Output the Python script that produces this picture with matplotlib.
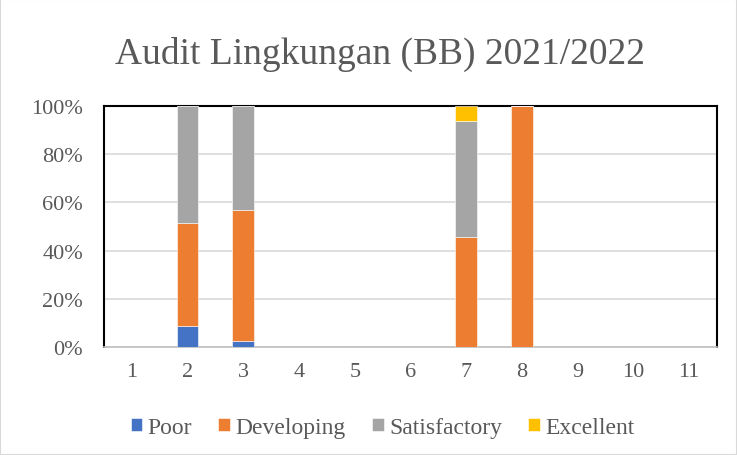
import matplotlib
matplotlib.use('Agg')
import numpy as np
import matplotlib.pyplot as plt
from matplotlib.patches import Rectangle

# ── Data ─────────────────────────────────────────────────────────────────────
CATEGORIES = [str(i) for i in range(1, 12)]
POOR = [0, 8.5, 2.6, 0, 0, 0, 0, 0, 0, 0, 0]
DEVELOPING = [0, 43.0, 54.4, 0, 0, 0, 45.5, 100, 0, 0, 0]
SATISFACTORY = [0, 48.5, 43.0, 0, 0, 0, 48.3, 0, 0, 0, 0]
EXCELLENT = [0, 0, 0, 0, 0, 0, 6.2, 0, 0, 0, 0]
SERIES = ["Poor", "Developing", "Satisfactory", "Excellent"]
COLORS = ["#4472C4", "#ED7D31", "#A5A5A5", "#FFC000"]
Y_TICKS = [0, 20, 40, 60, 80, 100]
# ─────────────────────────────────────────────────────────────────────────────

plt.rcParams['font.family'] = ['Liberation Serif', 'DejaVu Serif']

fig = plt.figure(figsize=(7.37, 4.56), dpi=100)
fig.patches.append(Rectangle((0, 0), 1, 1, transform=fig.transFigure,
                             fill=False, edgecolor="#d9d9d9", linewidth=1.5))
ax = fig.add_axes([0.141, 0.237, 0.832, 0.528])

x = np.arange(1, len(CATEGORIES) + 1)
bottom = np.zeros(len(CATEGORIES))
for vals, name, col in zip([POOR, DEVELOPING, SATISFACTORY, EXCELLENT], SERIES, COLORS):
    vals = np.array(vals)
    ax.bar(x, vals, 0.39, bottom=bottom, color=col, label=name,
           edgecolor="white", linewidth=0.4, zorder=3)
    bottom += vals

ax.set_xlim(0.5, 11.5)
ax.set_ylim(0, 100)
ax.set_xticks(x)
ax.set_xticklabels(CATEGORIES)
ax.set_yticks(Y_TICKS)
ax.set_yticklabels([f"{t}%" for t in Y_TICKS])
ax.tick_params(axis="both", length=0, labelsize=16, colors="#595959")
ax.tick_params(axis="x", pad=11)
ax.tick_params(axis="y", pad=15)
ax.grid(axis="y", color="#d9d9d9", linewidth=1.2, zorder=0)

for side in ["left", "top", "right"]:
    ax.spines[side].set_color("black")
    ax.spines[side].set_linewidth(1.5)
ax.spines["bottom"].set_color("#bfbfbf")
ax.spines["bottom"].set_linewidth(1.2)

fig.text(0.515, 0.88, "Audit Lingkungan (BB) 2021/2022", ha="center", va="center",
         fontsize=27, color="#595959")

fig.legend(loc="center", bbox_to_anchor=(0.519, 0.061), ncol=4, frameon=False,
           fontsize=17, handlelength=0.5, handleheight=0.5, handletextpad=0.23,
           columnspacing=1.1, labelcolor="#595959")

plt.savefig("out.png", dpi=100)
